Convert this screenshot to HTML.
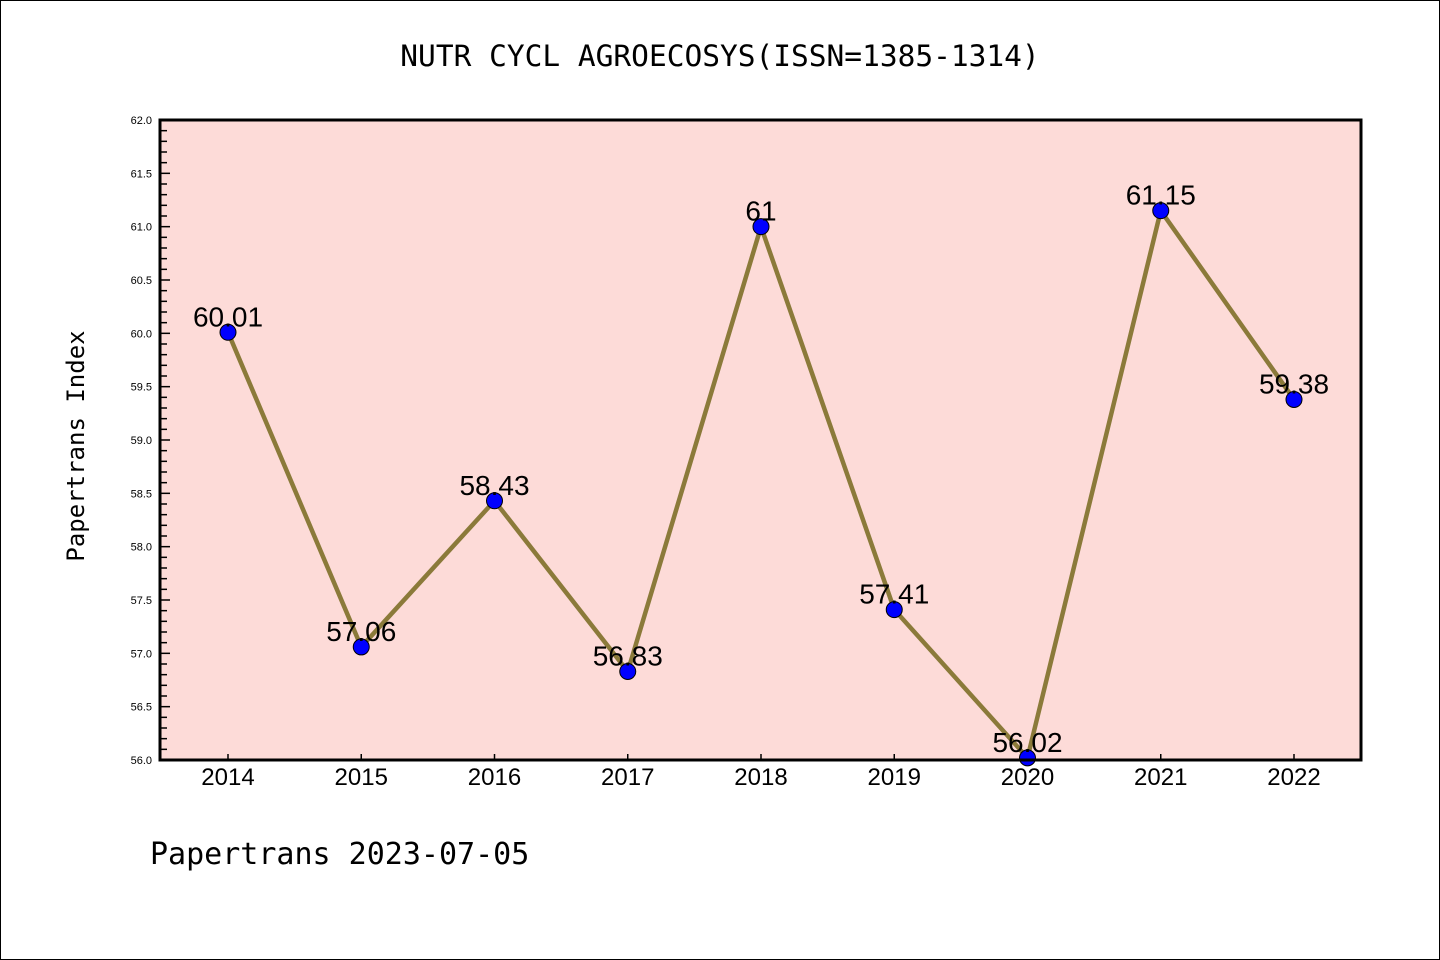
<!DOCTYPE html>
<html><head><meta charset="utf-8"><style>
body{margin:0;background:#fff;}
svg{display:block;font-family:"Liberation Sans","DejaVu Sans",sans-serif;}
</style></head><body>
<svg id="c" width="1440" height="960">
<rect x="0.5" y="0.5" width="1439" height="959" fill="#fff" stroke="#000"/>
<text x="720" y="66" text-anchor="middle" font-size="29.5" font-family="'DejaVu Sans Mono','Liberation Mono',monospace">NUTR CYCL AGROECOSYS(ISSN=1385-1314)</text>
<text transform="translate(84,446) rotate(-90)" text-anchor="middle" font-size="24" font-family="'DejaVu Sans Mono','Liberation Mono',monospace">Papertrans Index</text>
<text x="150" y="864" font-size="30" font-family="'DejaVu Sans Mono','Liberation Mono',monospace">Papertrans 2023-07-05</text>
<rect x="160" y="120" width="1201" height="640" fill="#fddbd8"/>
<g id="g"></g>
<rect x="160" y="120" width="1201" height="640" fill="none" stroke="#000" stroke-width="3"/>
</svg>
<script>
const years=[2014,2015,2016,2017,2018,2019,2020,2021,2022];
const values=[60.01,57.06,58.43,56.83,61,57.41,56.02,61.15,59.38];
const labels=["60.01","57.06","58.43","56.83","61","57.41","56.02","61.15","59.38"];
const yTicks=[56.0,56.5,57.0,57.5,58.0,58.5,59.0,59.5,60.0,60.5,61.0,61.5,62.0];
const NS="http://www.w3.org/2000/svg",g=document.getElementById('g');
const X=i=>228+i*(1294-228)/8;
const Y=v=>760-(v-56)*640/6;
function mk(t,a,p){const e=document.createElementNS(NS,t);for(const k in a)e.setAttribute(k,a[k]);(p||g).appendChild(e);return e;}
for(let k=0;k<=60;k++){const v=56+k*0.1;const major=k%5===0;
 const e=mk('line',{x1:160,x2:160+(major?10:7),y1:Y(v),y2:Y(v),stroke:'#000','stroke-width':1.5});
 
 }
yTicks.forEach(v=>{const t=mk('text',{x:152,y:Y(v)+4,'text-anchor':'end','font-size':11});t.textContent=v.toFixed(1);
 
 });
years.forEach((yr,i)=>{const l=mk('line',{x1:X(i),x2:X(i),y1:760,y2:754,stroke:'#000','stroke-width':1.5});
 
 
 const t=mk('text',{x:X(i),y:785,'text-anchor':'middle','font-size':24});t.textContent=yr;
 
 });
const line=mk('polyline',{points:values.map((v,i)=>X(i)+','+Y(v)).join(' '),fill:'none',stroke:'#8b7a3a','stroke-width':4.5});


values.forEach((v,i)=>{const c=mk('circle',{cx:X(i),cy:Y(v),r:8,fill:'#0000ff',stroke:'#000','stroke-width':1});
 
 
 const t=mk('text',{x:X(i),y:Y(v)-6,'text-anchor':'middle','font-size':28});t.textContent=labels[i];
 
 });
</script>
</body></html>
